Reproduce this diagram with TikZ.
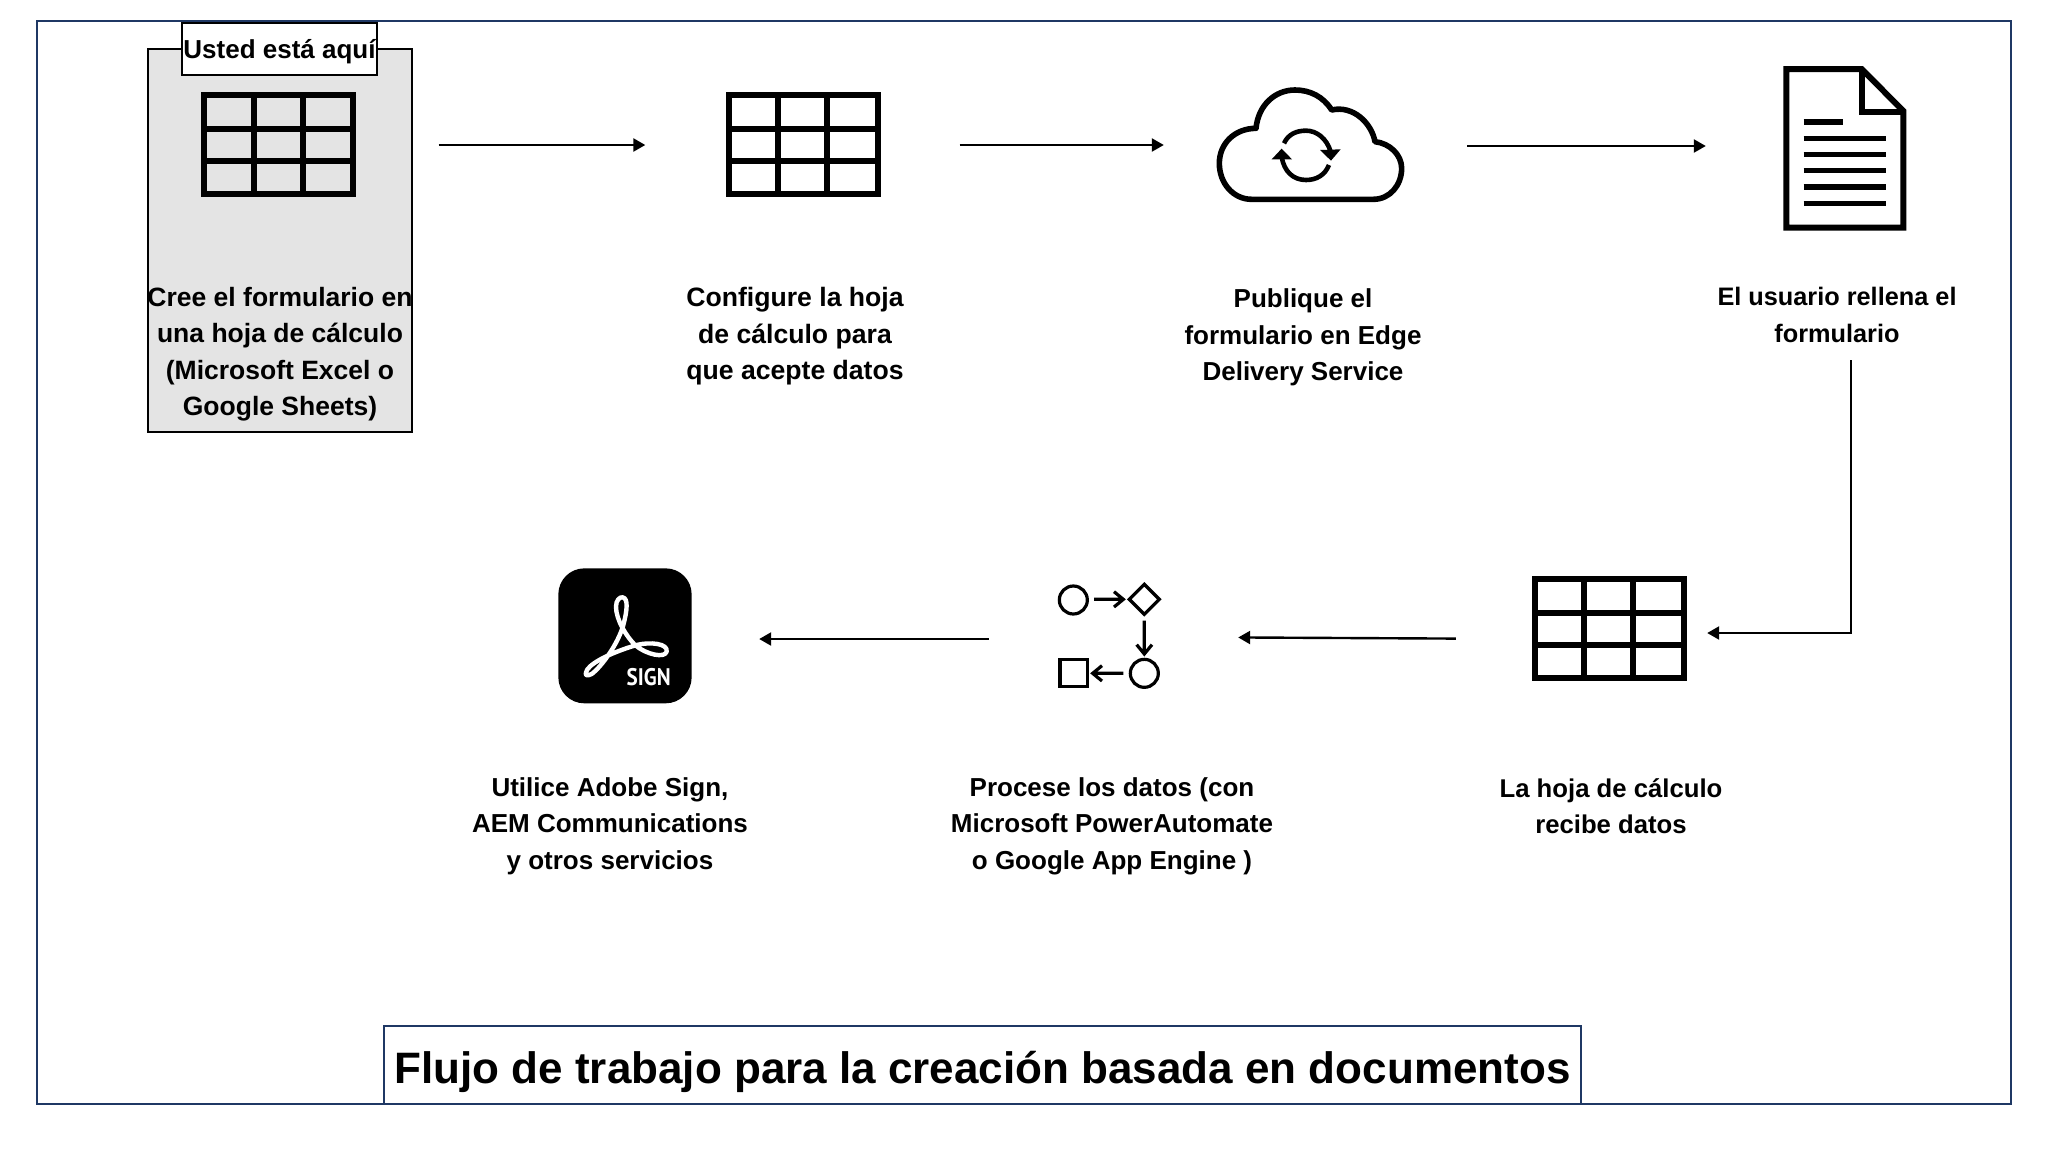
\documentclass[tikz,border=0pt]{standalone}
\usepackage{fontspec}
\setmainfont{Liberation Sans}
\newfontfamily\signfont[FakeStretch=0.88]{PT Sans}
\usetikzlibrary{arrows.meta}
\definecolor{framenavy}{HTML}{1F3864}
\definecolor{panelgray}{HTML}{E4E4E4}
\tikzset{
  x=1pt,y=-1pt,
  frameline/.style={draw=framenavy,line width=2pt},
  caption/.style={align=center,font=\fontsize{#1}{36.5}\selectfont\bfseries,inner sep=0pt,text=black},
  caption/.default=26,
  flow/.style={draw=black,line width=2.4pt,-{Triangle[length=12pt,width=13pt]}},
  iconbox/.style={inner sep=0pt,minimum width=#1,minimum height=20pt},
  icon/.style={draw=black,line width=6pt,miter limit=10},
  thin icon/.style={draw=black,line width=3.2pt},
}
\newcommand{\gridicon}[2]{%
  \begin{scope}[shift={(#1,#2)}]
    \draw[icon] (-74.5,-49.5) rectangle (74.5,49.5);
    \draw[icon] (-25,-49.5) -- (-25,49.5) (24,-49.5) -- (24,49.5);
    \draw[icon] (-74.5,-15) -- (74.5,-15) (-74.5,17) -- (74.5,17);
  \end{scope}}
\begin{document}
\begin{tikzpicture}
\useasboundingbox (0,0) rectangle (2048,1152);
\fill[white] (0,0) rectangle (2048,1152);
% frame
\draw[frameline] (37,21) rectangle (2011,1104);
% highlighted panel
\draw[fill=panelgray,draw=black,line width=2pt] (148,49) rectangle (412,432);
\node[draw=black,line width=2pt,fill=white,minimum width=195pt,minimum height=52pt,inner sep=0pt,
      font=\fontsize{26}{32}\selectfont\bfseries] (here) at (279.5,49) {\raisebox{-9.5pt}[0pt][0pt]{Usted está aquí}};
% icons
\gridicon{278.5}{144}
\gridicon{803}{144}
\gridicon{1609}{628}
% cloud
\begin{scope}[shift={(1180,60)},x=0.3333pt,y=-0.3333pt]
  \draw[draw=black,line width=5.6pt,line join=round]
    (215,418) -- (580,418)
    .. controls (630,418) and (665,375) .. (665,325)
    .. controls (665,285) and (630,250) .. (585,245)
    .. controls (575,190) and (520,135) .. (455,150)
    .. controls (430,110) and (390,90) .. (345,90)
    .. controls (285,90) and (235,135) .. (228,205)
    .. controls (165,205) and (118,250) .. (118,310)
    .. controls (118,370) and (160,418) .. (215,418) -- cycle;
  \draw[line width=4.6pt] (312,250) .. controls (325,222) and (350,212) .. (378,212)
     .. controls (410,212) and (440,235) .. (452,275);
  \draw[line width=4.6pt] (447,315) .. controls (435,345) and (410,360) .. (378,360)
     .. controls (340,360) and (312,335) .. (305,290);
  \fill (420,270) -- (482,268) -- (453,302) -- cycle;
  \fill (275,298) -- (336,298) -- (305,266) -- cycle;
\end{scope}
% document
\begin{scope}[shift={(1760,50)},x=0.3333pt,y=-0.3333pt]
  \draw[icon,line join=miter] (79,57) -- (305,57) -- (430,183) -- (430,533) -- (79,533) -- cycle;
  \draw[icon,line join=miter] (305,57) -- (305,187) -- (430,187);
  \draw[line width=5.4pt] (131,216) -- (250,216)
    (131,265) -- (379,265) (131,314) -- (379,314) (131,362) -- (379,362)
    (131,411) -- (379,411) (131,460) -- (379,460);
\end{scope}
% process icon
\begin{scope}[shift={(1040,570)},x=0.3333pt,y=-0.3333pt]
  \draw[thin icon] (100,90) circle[radius=14pt];
  \draw[thin icon] (313,43) -- (358,88) -- (313,133) -- (268,88) -- cycle;
  \draw[thin icon] (313,310) circle[radius=14pt];
  \draw[thin icon] (60,268) rectangle (142,350);
  \draw[thin icon] (162,88) -- (248,88) (222,65) -- (250,88) -- (222,111);
  \draw[thin icon] (313,152) -- (313,250) (290,224) -- (313,252) -- (336,224);
  \draw[thin icon] (250,310) -- (160,310) (186,287) -- (158,310) -- (186,333);
\end{scope}
% sign icon
\begin{scope}[shift={(540,550)},x=0.3333pt,y=-0.3333pt]
  \fill[black,rounded corners=26pt] (55,55) rectangle (455,460);
  \draw[white,line width=4.4pt,line join=round]
    (138,368) .. controls (140,345) and (205,310) .. (290,285)
    .. controls (330,275) and (385,280) .. (380,305)
    .. controls (375,325) and (320,315) .. (285,285)
    .. controls (260,260) and (228,210) .. (228,170)
    .. controls (228,150) and (240,140) .. (248,142)
    .. controls (265,145) and (262,180) .. (250,225)
    .. controls (235,280) and (185,350) .. (155,372)
    .. controls (140,380) and (135,375) .. (138,368) -- cycle;
  \node[white,inner sep=0pt,font=\signfont\bfseries\fontsize{24}{24}\selectfont] (signword) at (326,380) {SIGN};
\end{scope}
% invisible icon anchors for connectors
\node[iconbox=149pt] (table1) at (279,145) {};
\node[iconbox=149pt] (table2) at (803,145) {};
\node[iconbox=186pt] (cloud) at (1310,146) {};
\node[iconbox=118pt,minimum height=160pt] (doc) at (1841,146) {};
\node[iconbox=149pt] (table3) at (1609,639) {};
\node[iconbox=100pt] (flowicon) at (1102,638) {};
\node[iconbox=134pt] (signicon) at (625,639) {};
% captions
\node[caption=26.5] (t1) at (280,354) {Cree el formulario en\\una hoja de cálculo\\(Microsoft Excel o\\Google Sheets)};
\node[caption=26.6] (t2) at (795,336.5) {Configure la hoja\\de cálculo para\\que acepte datos};
\node[caption] (t3) at (1303,337.5) {Publique el\\formulario en Edge\\Delivery Service};
\node[caption=25.3] (t4) at (1837,315) {El usuario rellena el\\formulario};
\node[caption] (t5) at (610,826) {Utilice Adobe Sign,\\AEM Communications\\y otros servicios};
\node[caption] (t6) at (1112,826) {Procese los datos (con\\Microsoft PowerAutomate\\o Google App Engine )};
\node[caption=25.7] (t7) at (1611,806) {La hoja de cálculo\\recibe datos};
% title
\node[frameline,fill=white,minimum width=1197pt,minimum height=78pt,inner sep=0pt,
      font=\fontsize{44}{50}\selectfont\bfseries] (title) at (982.5,1065) {\raisebox{-18pt}[0pt][0pt]{Flujo de trabajo para la creación basada en documentos}};
% connectors
\draw[flow,shorten <=85pt,shorten >=83pt] (table1.east) -- (table2.west);
\draw[flow,shorten <=82pt,shorten >=53pt] (table2.east) -- ([yshift=1pt]cloud.west);
\draw[flow,shorten <=64pt,shorten >=76pt] (cloud.east) -- (doc.west);
\coordinate (elbowstart) at (1851,360);
\coordinate (elbowturn) at (1851,633);
\draw[flow] (elbowstart) -- (elbowturn) -- ([xshift=23.5pt,yshift=6pt]table3.east);
\draw[flow,shorten <=78.5pt,shorten >=86pt] (table3.west) -- ([yshift=1pt]flowicon.east);
\draw[flow,shorten <=63pt,shorten >=67pt] ([yshift=-1pt]flowicon.west) -- (signicon.east);
\end{tikzpicture}
\end{document}
